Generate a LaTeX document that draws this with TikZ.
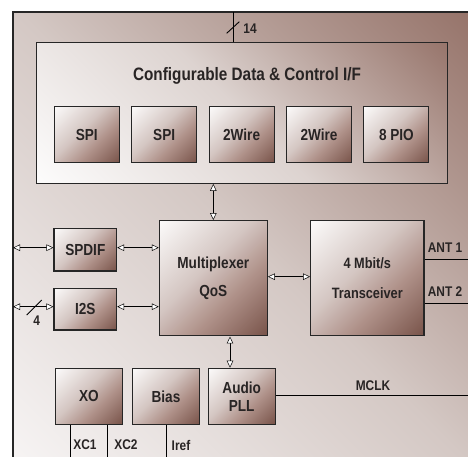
\documentclass[tikz,border=0pt]{standalone}
\usepackage{fontspec}
\setmainfont{Liberation Sans}[FakeStretch=0.85]
\usetikzlibrary{arrows.meta}
\definecolor{bgdark}{RGB}{146,110,100}
\definecolor{bgmid}{RGB}{212,200,196}
\definecolor{bglight}{RGB}{249,247,247}
\definecolor{blkdark}{RGB}{114,76,66}
\definecolor{blkmid}{RGB}{212,198,194}
\definecolor{blklow}{RGB}{175,145,137}
\definecolor{txt}{RGB}{40,36,36}
\pgfdeclareverticalshading{boxsh}{100bp}{color(0bp)=(blkdark); color(12bp)=(blkdark);
  color(38bp)=(blklow); color(56bp)=(blkmid); color(88bp)=(white); color(100bp)=(white)}
\pgfdeclareverticalshading{chipsh}{100bp}{color(0bp)=(bglight); color(12bp)=(bglight);
  color(50bp)=(bgmid); color(88bp)=(bgdark); color(100bp)=(bgdark)}
\pgfdeclareverticalshading{cfgsh}{100bp}{color(0bp)=(white); color(12bp)=(white);
  color(50bp)=(bgmid!80!white); color(88bp)=(bgdark); color(100bp)=(bgdark)}
\tikzset{
  blk/.style={draw=black!85, line width=1.1pt, shading=boxsh, shading angle=45,
    minimum width=65pt, minimum height=56pt, inner sep=0pt, align=center,
    text=txt, font=\bfseries\fontsize{16}{19}\selectfont},
  bus/.style={<->, line width=0.9pt},
  wire/.style={line width=0.9pt},
  lbl/.style={text=txt, inner sep=0pt, font=\bfseries\fontsize{14}{16}\selectfont}
}
\begin{document}
\begin{tikzpicture}[x=1pt, y=1pt,
  >={Triangle[length=7pt,width=6.5pt,fill=white,line width=0.5pt]}]
\useasboundingbox (0,0) rectangle (468,457);
% chip outline
\shade[shading=chipsh, shading angle=-45] (13,0) rectangle (468,445);
\draw[line width=1.1pt, black!85] (13,0) |- (468,445);
% interface block
\node[draw=black!85, line width=1.1pt, shading=cfgsh, shading angle=-45,
  minimum width=411pt, minimum height=140.6pt] (cfg) at (242.2,344) {};
\node[lbl, font=\bfseries\fontsize{18}{20}\selectfont] (cfgtitle) at (247,381)
  {Configurable Data \& Control I/F};
\foreach \name/\txt [count=\i from 0] in {spia/SPI, spib/SPI, twa/2Wire, twb/2Wire, pio/8 PIO}
{
\node[blk] (\name) at (86.8+\i*77.4,322.3) {\txt};
}
% main blocks
\node[blk, minimum width=108pt, minimum height=115.3pt] (mux) at (213.3,178.7)
  {Multiplexer\\[9.7pt]QoS};
\node[blk, minimum width=113.3pt, minimum height=115.3pt,
  font=\bfseries\fontsize{15}{18}\selectfont] (trx) at (367.3,178.7)
  {4 Mbit/s\\[11.4pt]Transceiver};
\node[blk, minimum width=62.7pt, minimum height=42.7pt] (spdif) at (85.3,207.3) {SPDIF};
\node[blk, minimum width=62.7pt, minimum height=41.7pt] (iis) at (85.3,147.8) {I2S};
\node[blk, minimum width=66.6pt] (xo) at (89,60.7) {XO};
\node[blk, minimum width=66.6pt] (bias) at (166,60.7) {Bias};
\node[blk, minimum width=66.7pt] (pll) at (241.7,60.7) {Audio\\[-1pt]PLL};
% free ends
\coordinate (pinsd) at (13,209.3);
\coordinate (pini2s) at (13,150.3);
\coordinate (pinbus) at (233,445);
% buses
\draw[wire] ([xshift=-9.2pt]cfg.north) -- (pinbus);
\draw[wire] (226.7,423.7) -- (239.3,435.3);
\node[lbl] (nbus) at (250,428) {14};
\draw[bus] (mux.north) -- (mux.north |- cfg.south);
\draw[bus] (pinsd) -- (pinsd -| spdif.west);
\draw[bus] ([yshift=2pt]spdif.east) -- ([yshift=2pt]spdif.east -| mux.west);
\draw[bus] (pini2s) -- (pini2s -| iis.west);
\draw[wire] (26.7,142) -- (41.7,157);
\node[lbl] (ni2s) at (36.7,136) {4};
\draw[bus] ([yshift=2.5pt]iis.east) -- ([yshift=2.5pt]iis.east -| mux.west);
\draw[bus] ([yshift=1.6pt]mux.east) -- ([yshift=1.6pt]mux.east -| trx.west);
\draw[bus] ([xshift=-11.7pt]pll.north) -- ([xshift=-11.7pt]pll.north |- mux.south);
% pins
\coordinate (ant1) at (468,197.7);
\coordinate (ant2) at (468,153.7);
\coordinate (mclk) at (468,62);
\draw[wire] (ant1 -| trx.east) -- (ant1);
\draw[wire] (ant2 -| trx.east) -- (ant2);
\node[lbl] (nant1) at (445,209) {ANT 1};
\node[lbl] (nant2) at (445,165) {ANT 2};
\draw[wire] (mclk -| pll.east) -- (mclk);
\node[lbl] (nmclk) at (373,71.3) {MCLK};
\foreach \x/\name/\txt/\lx in {70.3/xo/XC1/85, 107.3/xo/XC2/126, 166/bias/Iref/181}
{
\draw[wire] (\x,0) -- (\x,0 |- \name.south);
\node[lbl] at (\lx,12) {\txt};
}
\end{tikzpicture}
\end{document}
